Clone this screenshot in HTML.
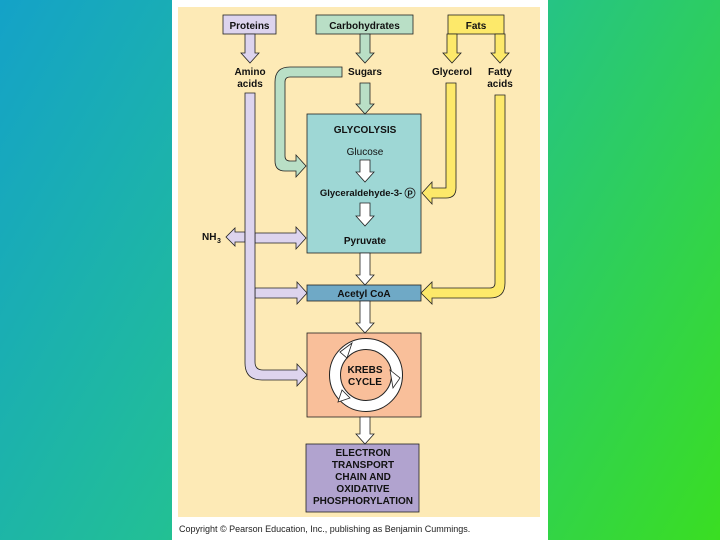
<!DOCTYPE html>
<html><head><style>
html,body{margin:0;padding:0}
body{width:720px;height:540px;overflow:hidden;background:linear-gradient(120deg,#14a2c8 0%,#22bf96 45%,#3ade22 100%);position:relative;font-family:"Liberation Sans",sans-serif}
#panel{position:absolute;left:172px;top:0;width:376px;height:540px;background:#fff}
svg{position:absolute;left:0;top:0}
text{font-family:"Liberation Sans",sans-serif;font-weight:bold;font-size:10px;fill:#111}
</style></head><body>
<div id="panel"></div>
<svg width="720" height="540" viewBox="0 0 720 540">
<rect x="178" y="7" width="362" height="510" fill="#fdeab6"/>
<g stroke="#222" stroke-width="0.8">
<!-- boxes -->
<rect x="223" y="15" width="53" height="19" fill="#ddd4ee"/>
<rect x="316" y="15" width="97" height="19" fill="#b9dfc6"/>
<rect x="448" y="15" width="56" height="19" fill="#fde96a"/>
<rect x="307" y="114" width="114" height="139" fill="#9ed7d5"/>
<rect x="307" y="285" width="114" height="16" fill="#6fa9c6"/>
<rect x="307" y="333" width="114" height="84" fill="#f9bf9a"/>
<rect x="306" y="444" width="113" height="68" fill="#b1a3cf"/>
<!-- protein -->
<polygon fill="#ddd4ee" points="245,34 255,34 255,53 259,53 250,63 241,53 245,53"/>
<path fill="#ddd4ee" d="M255,233 L296,233 L296,227 L306,238 L296,249 L296,243 L255,243 Z"/>
<path fill="#ddd4ee" d="M255,288 L297,288 L297,282 L307,293 L297,304 L297,298 L255,298 Z"/>
<path fill="#ddd4ee" d="M245,232 L235,232 L235,228 L226,237 L235,246 L235,242 L245,242 Z"/>
<path fill="#ddd4ee" d="M245,93 L255,93 L255,362 Q255,370 263,370 L297,370 L297,364 L307,375 L297,386 L297,380 L262,380 Q245,380 245,363 Z"/>
<!-- carbs -->
<polygon fill="#b9dfc6" points="360,34 370,34 370,53 374,53 365,63 356,53 360,53"/>
<polygon fill="#b9dfc6" points="360,83 370,83 370,104 374,104 365,114 356,104 360,104"/>
<path fill="#b9dfc6" d="M342,67 L290,67 Q275,67 275,82 L275,161 Q275,171 285,171 L296,171 L296,177 L306,166 L296,155 L296,161 L290,161 Q285,161 285,156 L285,82 Q285,77 290,77 L342,77 Z"/>
<!-- fats -->
<polygon fill="#fde96a" points="447,34 457,34 457,53 461,53 452,63 443,53 447,53"/>
<polygon fill="#fde96a" points="495,34 505,34 505,53 509,53 500,63 491,53 495,53"/>
<path fill="#fde96a" d="M446,83 L456,83 L456,188 Q456,198 446,198 L432,198 L432,204 L422,193 L432,182 L432,188 L446,188 Z"/>
<path fill="#fde96a" d="M495,95 L505,95 L505,283 Q505,298 490,298 L432,298 L432,304 L421,293 L432,282 L432,288 L490,288 Q495,288 495,283 Z"/>
<!-- white arrows -->
<g fill="#fff">
<polygon points="360,160 370,160 370,172 374,172 365,182 356,172 360,172"/>
<polygon points="360,203 370,203 370,216 374,216 365,226 356,216 360,216"/>
<polygon points="360,253 370,253 370,275 374,275 365,285 356,275 360,275"/>
<polygon points="360,301 370,301 370,323 374,323 365,333 356,323 360,323"/>
<polygon points="360,417 370,417 370,434 374,434 365,444 356,434 360,434"/>
</g>
</g>
<!-- krebs ring -->
<circle cx="366" cy="375" r="31" fill="none" stroke="#222" stroke-width="12"/>
<circle cx="366" cy="375" r="31" fill="none" stroke="#fff" stroke-width="10"/>
<g fill="#fff" stroke="#222" stroke-width="0.8">
<polygon points="340,352 352,343 347,358"/>
<polygon points="390,370 400,378 393,388"/>
<polygon points="342,390 338,402 350,398"/>
</g>
<!-- labels -->
<text x="249.5" y="29" text-anchor="middle">Proteins</text>
<text x="364.5" y="29" text-anchor="middle">Carbohydrates</text>
<text x="476" y="29" text-anchor="middle">Fats</text>
<text x="250" y="75" text-anchor="middle">Amino</text>
<text x="250" y="87" text-anchor="middle">acids</text>
<text x="365" y="75" text-anchor="middle">Sugars</text>
<text x="452" y="75" text-anchor="middle">Glycerol</text>
<text x="500" y="75" text-anchor="middle">Fatty</text>
<text x="500" y="87" text-anchor="middle">acids</text>
<text x="365" y="133" text-anchor="middle">GLYCOLYSIS</text>
<text x="365" y="155" text-anchor="middle" font-weight="normal" style="font-weight:normal">Glucose</text>
<text x="361" y="196" text-anchor="middle" style="font-size:9.5px">Glyceraldehyde-3-</text>
<circle cx="410" cy="193" r="5" fill="none" stroke="#222" stroke-width="0.8"/>
<text x="410" y="196.5" text-anchor="middle" style="font-size:8px">P</text>
<text x="365" y="244" text-anchor="middle">Pyruvate</text>
<text x="202" y="240">NH</text><text x="217" y="243" style="font-size:7px">3</text>
<text x="364" y="297" text-anchor="middle">Acetyl CoA</text>
<text x="365" y="373" text-anchor="middle">KREBS</text>
<text x="365" y="385" text-anchor="middle">CYCLE</text>
<text x="363" y="456" text-anchor="middle">ELECTRON</text>
<text x="363" y="468" text-anchor="middle">TRANSPORT</text>
<text x="363" y="480" text-anchor="middle">CHAIN AND</text>
<text x="363" y="492" text-anchor="middle">OXIDATIVE</text>
<text x="363" y="504" text-anchor="middle">PHOSPHORYLATION</text>
<text x="179" y="532" style="font-weight:normal;font-size:9px;fill:#222">Copyright © Pearson Education, Inc., publishing as Benjamin Cummings.</text>
</svg>
</body></html>
